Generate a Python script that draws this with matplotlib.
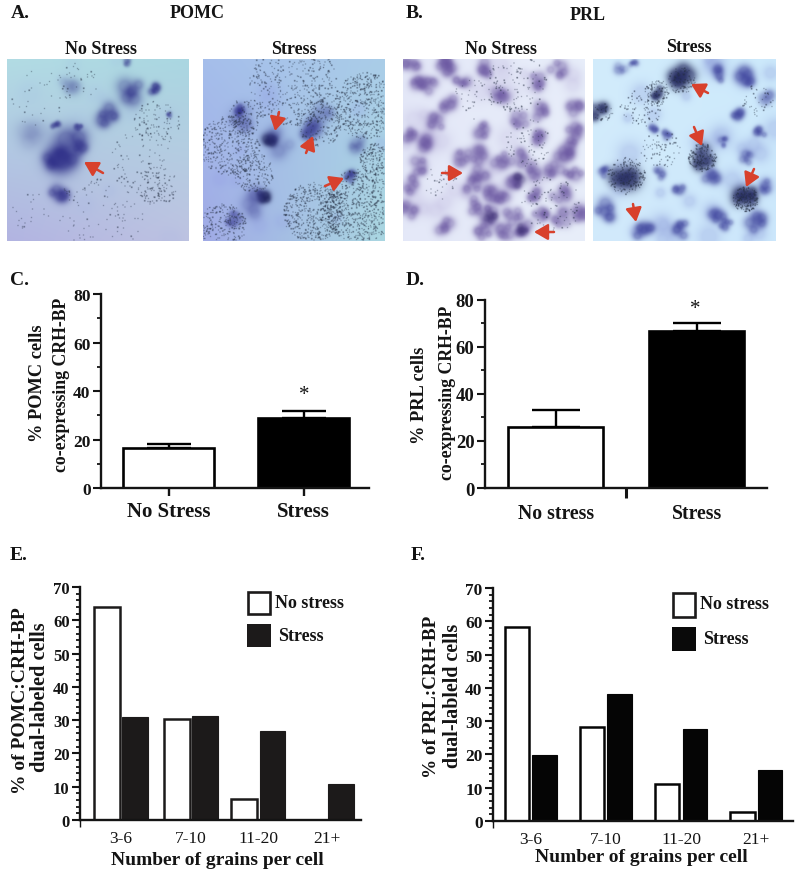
import numpy as np
import matplotlib
matplotlib.use("Agg")
import matplotlib.pyplot as plt
from matplotlib.patches import Rectangle
from matplotlib.ticker import MultipleLocator

plt.rcParams['font.family'] = ['Liberation Serif', 'DejaVu Serif']
plt.rcParams['font.weight'] = 'bold'

W, H = 800, 878
INK = '#141414'

# ---- data ----
pair_labels_C = ['No Stress', 'Stress']
pomc_means = [16.5, 29.0]
pomc_err = [1.8, 2.7]
pair_labels_D = ['No stress', 'Stress']
prl_means = [26.0, 66.5]
prl_err = [7.0, 3.6]

grain_bins = ['3-6', '7-10', '11-20', '21+']
pomc_no_stress = [64.0, 30.3, 6.2, 0.0]
pomc_stress = [30.8, 31.3, 26.7, 10.8]
prl_no_stress = [58.3, 28.2, 11.2, 2.6]
prl_stress = [19.8, 38.3, 27.7, 15.3]

fig = plt.figure(figsize=(W / 100, H / 100), dpi=100, facecolor='white')


def axes_px(x0, y_top, x1, y_bot):
    return fig.add_axes([x0 / W, 1 - y_bot / H, (x1 - x0) / W, (y_bot - y_top) / H], facecolor='none')


# ---- micrograph approximations (photographic texture only, not chart data) ----
SIZE = 546


def h(k):
    return (np.sin(k * 12.9898 + 1.7) * 43758.5453) % 1


def paint(img, xx, yy, px, py, rr, a, col):
    d2 = (xx - px) ** 2 + (yy - py) ** 2
    m = np.clip(a * 1.35 * np.exp(-d2 / (2 * rr ** 2)), 0, a)[..., None]
    return img * (1 - m) + np.array(col, float) * m


def micrograph(corners, blobs, clouds, origin, mottle):
    n = 364
    yy, xx = np.mgrid[0:n, 0:n] / (n - 1)
    c = [np.array(k, float) for k in corners]
    img = ((1 - xx)[..., None] * (1 - yy)[..., None] * c[0] + xx[..., None] * (1 - yy)[..., None] * c[1]
           + (1 - xx)[..., None] * yy[..., None] * c[2] + xx[..., None] * yy[..., None] * c[3])
    s = origin[0] * 3 + 11.0
    count, mcol, ma = mottle
    for i in range(count):
        img = paint(img, xx, yy, h(s + i * 2.1), h(s + i * 3.3 + .5), 0.02 + 0.03 * h(s + i * 4.7), ma, mcol)
    for b, (bx, by, r, a, col) in enumerate(blobs):
        px, py = (bx - origin[0]) / SIZE, (by - origin[1]) / SIZE
        rr = r / SIZE
        for j in range(6):
            q = s + b * 7.3 + j * 1.9
            ang, rad = 2 * np.pi * h(q), rr * 1.15 * np.sqrt(h(q + .37))
            img = paint(img, xx, yy, px + rad * np.cos(ang), py + rad * np.sin(ang), rr * (0.4 + 0.3 * h(q + .71)), a * 0.6, col)
    k = s
    for cx, cy, rad, cnt in clouds:
        for _ in range(cnt):
            u, v, w = h(k + .13), h(k + .57), h(k + .91)
            k += 1.37
            rho = rad * np.sqrt(u)
            gx = (cx - origin[0] + rho * np.cos(2 * np.pi * v)) / SIZE * n
            gy = (cy - origin[1] + rho * np.sin(2 * np.pi * v)) / SIZE * n
            i, j = int(gy), int(gx)
            g = 2 if w < 0.75 else 3
            if 0 <= i < n - g and 0 <= j < n - g:
                img[i:i + g, j:j + g] = img[i:i + g, j:j + g] * 0.4 + np.array([35, 45, 65]) * 0.6
    return np.clip(img, 0, 255).astype(np.uint8)


NAVY = (45, 45, 135)
BLUE = (60, 65, 155)
DARK = (30, 35, 90)
PURP = (105, 85, 160)

a1_blobs = [(200, 450, 42, .75, NAVY), (165, 480, 22, .6, NAVY), (235, 440, 18, .5, NAVY), (170, 580, 20, .6, NAVY),
            (320, 350, 24, .65, NAVY), (400, 275, 28, .55, NAVY), (460, 265, 13, .7, NAVY), (165, 378, 9, .6, NAVY),
            (235, 385, 9, .6, NAVY), (380, 190, 10, .35, NAVY), (200, 265, 24, .18, NAVY), (510, 350, 8, .4, NAVY),
            (110, 400, 35, .12, NAVY)]
a1_clouds = [(470, 560, 60, 110), (470, 370, 70, 90), (300, 640, 130, 110), (120, 300, 90, 30), (420, 480, 90, 50),
             (90, 640, 60, 20), (230, 250, 60, 30)]
a2_blobs = [(815, 425, 17, .85, DARK), (720, 335, 11, .8, NAVY), (720, 350, 30, .25, NAVY), (940, 395, 24, .55, NAVY),
            (970, 345, 24, .25, NAVY), (790, 595, 16, .85, DARK), (760, 620, 30, .3, NAVY), (700, 660, 16, .5, NAVY),
            (1055, 535, 14, .65, NAVY), (1080, 435, 20, .3, NAVY), (840, 430, 30, .25, NAVY)]
a2_clouds = [(880, 250, 130, 450), (1100, 320, 100, 550), (690, 440, 90, 400), (1080, 620, 110, 750), (940, 640, 90, 480),
             (760, 520, 60, 170), (670, 680, 70, 240), (960, 370, 70, 190), (1130, 480, 50, 170), (740, 350, 55, 100)]
b1_pts = [(45, 255), (130, 195), (260, 205), (150, 320), (110, 370), (30, 410), (70, 430), (255, 395), (300, 290),
          (360, 360), (425, 340), (525, 320), (520, 400), (420, 415), (505, 440), (490, 460), (185, 470), (300, 480),
          (355, 480), (400, 520), (460, 510), (350, 545), (240, 530), (210, 560), (35, 560), (60, 500), (265, 650),
          (370, 690), (480, 660), (420, 640), (250, 700), (340, 650), (300, 590), (130, 680), (540, 640), (520, 525),
          (230, 470), (90, 260), (470, 210), (410, 250), (185, 235), (400, 590), (260, 590), (150, 200), (30, 200),
          (230, 620), (320, 700), (480, 590), (30, 630)]
b1_blobs = [(x, y, 20, .62, PURP) for x, y in b1_pts] + [(350, 545, 16, .55, (65, 50, 120)), (265, 650, 16, .55, (65, 50, 120)), (370, 690, 12, .6, (65, 50, 120))]
b1_clouds = [(350, 250, 90, 110), (380, 430, 70, 70), (120, 550, 50, 30), (450, 620, 90, 90), (220, 300, 60, 35)]
b2_blobs = [(845, 235, 26, .85, DARK), (775, 285, 17, .7, DARK), (960, 225, 17, .6, BLUE), (1040, 240, 22, .75, BLUE),
            (1010, 340, 15, .65, BLUE), (1080, 400, 15, .65, BLUE), (760, 390, 11, .6, BLUE), (805, 405, 11, .65, BLUE),
            (905, 475, 26, .85, DARK), (680, 530, 34, .75, DARK), (1035, 595, 26, .9, DARK), (935, 540, 18, .6, BLUE),
            (840, 570, 14, .55, BLUE), (620, 640, 24, .7, BLUE), (730, 700, 24, .75, BLUE), (840, 690, 20, .7, BLUE),
            (1070, 670, 24, .7, BLUE), (980, 680, 15, .6, BLUE), (600, 340, 20, .75, DARK), (970, 430, 11, .55, BLUE),
            (1040, 480, 15, .55, BLUE), (780, 520, 15, .5, BLUE), (700, 190, 10, .5, BLUE), (1100, 560, 18, .5, BLUE),
            (610, 520, 14, .55, BLUE), (950, 640, 20, .6, BLUE), (660, 210, 14, .35, BLUE), (1100, 300, 18, .35, BLUE)]
b2_clouds = [(845, 245, 40, 90), (770, 280, 40, 90), (905, 475, 42, 170), (680, 530, 58, 180), (1035, 600, 38, 190),
             (780, 450, 60, 70), (720, 330, 60, 70), (1070, 300, 50, 40), (610, 340, 28, 35)]

panels = [
    ((7, 60, 189, 242), ((178, 220, 228), (170, 215, 225), (178, 180, 225), (190, 195, 225)), a1_blobs, a1_clouds, (20, 180), (12, (150, 170, 225), .10)),
    ((203, 60, 385, 242), ((165, 190, 235), (170, 205, 232), (160, 170, 230), (170, 215, 225)), a2_blobs, a2_clouds, (610, 180), (10, (135, 140, 225), .15)),
    ((403, 60, 585, 242), ((228, 232, 248), (232, 238, 250), (228, 232, 248), (232, 238, 250)), b1_blobs, b1_clouds, (8, 180), (30, (180, 170, 215), .22)),
    ((593, 60, 776, 242), ((210, 236, 252), (205, 234, 252), (210, 234, 252), (205, 232, 252)), b2_blobs, b2_clouds, (580, 180), (35, (135, 150, 215), .28)),
]
for (x0, y0, x1, y1), corners, blobs, clouds, origin, mottle in panels:
    ax = axes_px(x0, y0, x1, y1)
    ax.imshow(micrograph(corners, blobs, clouds, origin, mottle), interpolation='bilinear', aspect='auto')
    ax.axis('off')


# ---- bar panels ----
def style_axis(ax, ymax, major, minor, lab_size):
    ax.set_ylim(0, ymax)
    for s in ('top', 'right'):
        ax.spines[s].set_visible(False)
    for s in ('left', 'bottom'):
        ax.spines[s].set_linewidth(1.7)
        ax.spines[s].set_color(INK)
    ax.yaxis.set_major_locator(MultipleLocator(major))
    ax.yaxis.set_minor_locator(MultipleLocator(minor))
    ax.tick_params(axis='y', which='major', length=5.5, width=1.5, labelsize=lab_size, pad=2, colors=INK)
    ax.tick_params(axis='y', which='minor', length=3, width=1.3, colors=INK)
    for t in ax.get_yticklabels():
        t.set_fontweight('bold')


def pair_panel(box, xlim, means, errs, labels, capw, tick_between, lab_fs, pad, ytick_fs):
    ax = axes_px(*box)
    ax.set_xlim(*xlim)
    style_axis(ax, 80, 20, 10, ytick_fs)
    xs = np.arange(2)
    ax.bar(xs, means, 0.675, color=['white', 'black'], edgecolor='black', linewidth=1.9, zorder=2)
    ax.errorbar(xs, means, yerr=[[0, 0], errs], fmt='none', ecolor='black', elinewidth=1.7, capsize=capw, capthick=1.7, zorder=1)
    ax.set_xticks(xs, labels, fontsize=lab_fs, fontweight='bold', color=INK)
    if tick_between:
        ax.set_xticks([0.5], minor=True)
        ax.tick_params(axis='x', which='major', length=0, pad=pad)
        ax.tick_params(axis='x', which='minor', length=7, width=2.2, colors=INK)
    else:
        ax.tick_params(axis='x', which='major', length=6, width=1.7, pad=pad, colors=INK)
    return ax


axC = pair_panel((101, 295, 369, 489.3), (-0.5, 1.485), pomc_means, pomc_err, pair_labels_C, 16, False, 15, 3, 12.5)
axD = pair_panel((485, 300.7, 767, 489), (-0.502, 1.5), prl_means, prl_err, pair_labels_D, 17, True, 14.2, 11, 13.5)


def grain_panel(box, xlim, centers, width, offset, none, stress, black, ytick_fs):
    ax = axes_px(*box)
    ax.set_xlim(*xlim)
    style_axis(ax, 70, 10, 2, ytick_fs)
    xs = np.array(centers)
    ax.bar(xs - offset, none, width, color='white', edgecolor=black, linewidth=1.8, zorder=2)
    ax.bar(xs + offset, stress, width, color=black, edgecolor=black, linewidth=0.8, zorder=2)
    ax.set_xticks(xs, grain_bins, fontsize=12.5, fontweight='normal', color=INK)
    ax.tick_params(axis='x', which='major', length=0, pad=7)
    ax.set_xticks([xlim[0]], minor=True)
    ax.tick_params(axis='x', which='minor', length=5, width=1.0, colors=INK)
    return ax


axE = grain_panel((80, 588, 361, 821), (-0.597, 3.495), [0, 1.02, 2, 3], 0.375, 0.208, pomc_no_stress, pomc_stress, '#1c1a1a', 12)
axF = grain_panel((493, 589, 793, 822), (-0.5, 3.49), [0, 1, 2, 3], 0.325, 0.183, prl_no_stress, prl_stress, '#050505', 12.5)

# ---- overlay in pixel coordinates: labels, arrows, legends ----
ov = fig.add_axes([0, 0, 1, 1], facecolor='none', zorder=10)
ov.set_xlim(0, W)
ov.set_ylim(H, 0)
ov.axis('off')


def txt(x, y, s, size, ha='center', rot=0, weight='bold'):
    ov.text(x, y, s, fontsize=size, ha=ha, va='center', rotation=rot, fontweight=weight, color=INK,
            rotation_mode='anchor' if rot else 'default')


for x, y, s in [(11, 14, 'A.'), (406, 14, 'B.'), (10, 281, 'C.'), (406, 281, 'D.'), (10, 556, 'E.'), (411, 556, 'F.')]:
    txt(x, y, s, 14, ha='left')
txt(197, 14, 'POMC', 13)
txt(588, 15, 'PRL', 13)
for x, y, s in [(101, 49, 'No Stress'), (294, 49, 'Stress'), (501, 50, 'No Stress'), (689, 48, 'Stress')]:
    txt(x, y, s, 13)

for x, y, s, fs in [(38, 383, '% POMC cells', 13.2), (62, 385, 'co-expressing CRH-BP', 12.8),
                    (420, 395, '% PRL cells', 13.2), (447, 393, 'co-expressing CRH-BP', 12.8),
                    (21, 701, '% of POMC:CRH-BP', 14), (40, 697, 'dual-labeled cells', 14.6),
                    (432, 697, '% of PRL:CRH-BP', 13.8), (453, 696, 'dual-lableld cells', 14.4)]:
    txt(x, y, s, fs, rot=90)

txt(304, 396, '*', 15, weight='normal')
txt(695, 310, '*', 15, weight='normal')
txt(217, 861, 'Number of grains per cell', 14)
txt(641, 858, 'Number of grains per cell', 14)

for (x, y, w, h_, fc) in [(248, 593, 22, 22, 'white'), (247, 625, 24, 23, '#1c1a1a'),
                          (673, 594, 22, 24, 'white'), (672, 628, 24, 24, '#0a0a0a')]:
    ov.add_patch(Rectangle((x, y), w, h_, facecolor=fc, edgecolor='#1c1a1a', linewidth=1.9 if fc == 'white' else 0))
txt(275, 604, 'No stress', 13, ha='left')
txt(278, 637, 'Stress', 13, ha='left')
txt(700, 605, 'No stress', 13, ha='left')
txt(703, 640, 'Stress', 13, ha='left')

arrows = [((103, 174), (84, 163)), ((279, 113), (275, 132)), ((306, 154), (313, 137)), ((325, 187), (344, 179)),
          ((442, 174), (463, 174)), ((554, 233), (534, 233)), ((708, 94), (691, 85)), ((694, 128), (702, 147)),
          ((754, 170), (746, 188)), ((633, 205), (636, 223))]
for tail, tip in arrows:
    ov.annotate('', xy=tip, xytext=tail,
                arrowprops=dict(arrowstyle='-|>,head_width=0.32,head_length=0.55', color='#d8402c', lw=1.8,
                                shrinkA=0, shrinkB=0, mutation_scale=15))

fig.savefig('out.png', dpi=100)
